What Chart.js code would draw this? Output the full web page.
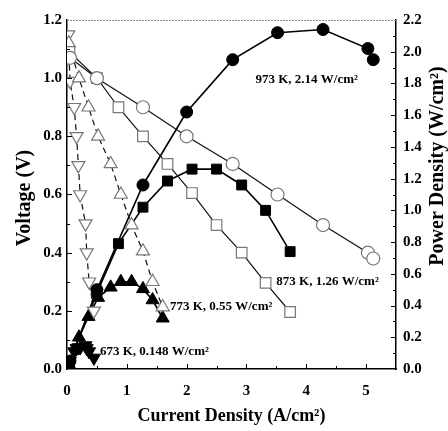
<!DOCTYPE html>
<html>
<head>
<meta charset="utf-8">
<script src="https://cdn.jsdelivr.net/npm/chart.js@4.4.1/dist/chart.umd.min.js"></script>
<style>
    body { margin: 0; background: #fff; overflow: hidden; }
    canvas { display: block; }
</style>
</head>
<body>
<canvas id="fuelCellChart" width="448" height="431"></canvas>
<script>
// current density (A/cm2), voltage (V) and power density (W/cm2) per temperature
const cur973 = [0.05, 0.5, 1.27, 2.0, 2.77, 3.52, 4.28, 5.03, 5.12];
const volt973 = [1.07, 1.0, 0.9, 0.8, 0.705, 0.6, 0.495, 0.4, 0.38];
const pow973 = [0.05, 0.5, 1.16, 1.62, 1.95, 2.12, 2.14, 2.02, 1.95];

const cur873 = [0.04, 0.5, 0.86, 1.27, 1.68, 2.09, 2.5, 2.92, 3.32, 3.73];
const volt873 = [1.09, 1.0, 0.9, 0.8, 0.705, 0.605, 0.495, 0.4, 0.296, 0.196];
const pow873 = [0.04, 0.48, 0.79, 1.02, 1.185, 1.26, 1.26, 1.16, 1.0, 0.74];

const cur773 = [0.03, 0.2, 0.36, 0.52, 0.73, 0.9, 1.08, 1.27, 1.43, 1.6];
const volt773 = [1.12, 1.0, 0.9, 0.8, 0.705, 0.6, 0.495, 0.405, 0.3, 0.213];
const pow773 = [0.03, 0.2, 0.33, 0.45, 0.515, 0.55, 0.55, 0.505, 0.435, 0.32];

const cur673 = [0.02, 0.05, 0.12, 0.16, 0.19, 0.22, 0.31, 0.33, 0.37, 0.45];
const volt673 = [1.15, 0.99, 0.9, 0.8, 0.7, 0.6, 0.5, 0.4, 0.3, 0.2];
const pow673 = [0.02, 0.05, 0.11, 0.13, 0.135, 0.135, 0.148, 0.13, 0.11, 0.07];

const xTicks = [0, 1, 2, 3, 4, 5];
const voltTicks = [0.0, 0.2, 0.4, 0.6, 0.8, 1.0, 1.2];
const powTicks = [0.0, 0.2, 0.4, 0.6, 0.8, 1.0, 1.2, 1.4, 1.6, 1.8, 2.0, 2.2];

const curveLabels = ['973 K, 2.14 W/cm²', '873 K, 1.26 W/cm²', '773 K, 0.55 W/cm²', '673 K, 0.148 W/cm²'];

const SERIF = '"Liberation Serif", "Times New Roman", serif';

function pts(xs, ys) {
    var out = [];
    for (var i = 0; i < xs.length; i++) {
        out.push({ x: xs[i], y: ys[i] });
    }
    return out;
}

function openSet(xs, ys, style, rot, dashed, r) {
    return {
        data: pts(xs, ys),
        yAxisID: 'y',
        showLine: true,
        borderColor: '#111',
        borderWidth: 1.2,
        borderDash: dashed ? [6, 4] : [],
        pointStyle: style,
        pointRotation: rot,
        pointRadius: r,
        pointBackgroundColor: '#fff',
        pointBorderColor: '#777',
        pointBorderWidth: 1.2
    };
}

function filledSet(xs, ys, style, rot, r) {
    return {
        data: pts(xs, ys),
        yAxisID: 'y1',
        showLine: true,
        borderColor: '#000',
        borderWidth: 1.6,
        pointStyle: style,
        pointRotation: rot,
        pointRadius: r,
        pointBackgroundColor: '#000',
        pointBorderColor: '#000',
        pointBorderWidth: 1
    };
}

// inward tick marks, box top and curve annotations
const decorations = {
    id: 'decorations',
    afterDatasetsDraw(chart) {
        const ctx = chart.ctx;
        const a = chart.chartArea;
        const sx = chart.scales.x, sy = chart.scales.y, sy1 = chart.scales.y1;
        ctx.save();
        ctx.strokeStyle = '#000';
        ctx.lineWidth = 1;
        ctx.beginPath();
        for (var v = 0.5; v < 5.5; v += 0.5) {
            var px = Math.round(sx.getPixelForValue(v)) + 0.5;
            var len = Number.isInteger(v) ? 5 : 3;
            ctx.moveTo(px, a.bottom);
            ctx.lineTo(px, a.bottom - len);
        }
        for (var k = 1; k < 12; k++) {
            var py = Math.round(sy.getPixelForValue(k * 0.1)) + 0.5;
            ctx.moveTo(a.left, py);
            ctx.lineTo(a.left + (k % 2 === 0 ? 5 : 3), py);
        }
        for (var m = 1; m < 22; m++) {
            var py1 = Math.round(sy1.getPixelForValue(m * 0.1)) + 0.5;
            ctx.moveTo(a.right, py1);
            ctx.lineTo(a.right - (m % 2 === 0 ? 5 : 3), py1);
        }
        ctx.stroke();

        // top edge of the box
        ctx.strokeStyle = '#888';
        ctx.setLineDash([2, 1]);
        ctx.beginPath();
        ctx.moveTo(a.left, a.top + 0.5);
        ctx.lineTo(a.right, a.top + 0.5);
        ctx.stroke();
        ctx.setLineDash([]);

        // curve labels
        ctx.fillStyle = '#000';
        ctx.font = 'bold 13px ' + SERIF;
        ctx.textBaseline = 'middle';
        ctx.textAlign = 'left';
        ctx.fillText(curveLabels[0], sx.getPixelForValue(3.15), sy.getPixelForValue(0.994));
        ctx.fillText(curveLabels[1], sx.getPixelForValue(3.5), sy.getPixelForValue(0.3));
        ctx.fillText(curveLabels[2], sx.getPixelForValue(1.72), sy.getPixelForValue(0.213));
        ctx.fillText(curveLabels[3], sx.getPixelForValue(0.55), sy.getPixelForValue(0.058));
        ctx.restore();
    }
};

// both vertical axis titles, reading bottom to top
function sideTitle(ctx, text, x, y) {
    ctx.save();
    ctx.translate(x, y);
    ctx.rotate(-Math.PI / 2);
    ctx.fillText(text, 0, 0);
    ctx.restore();
}

const axisTitles = {
    id: 'axisTitles',
    afterDraw(chart) {
        const ctx = chart.ctx;
        ctx.save();
        ctx.fillStyle = '#000';
        ctx.font = 'bold 20px ' + SERIF;
        ctx.textAlign = 'center';
        ctx.textBaseline = 'middle';
        sideTitle(ctx, 'Voltage (V)', 25, 198);
        sideTitle(ctx, 'Power Density (W/cm²)', 438, 166);
        ctx.restore();
    }
};

const tickFont = { family: SERIF, size: 15, weight: 'bold' };

new Chart(document.getElementById('fuelCellChart').getContext('2d'), {
    type: 'scatter',
    data: {
        datasets: [
            openSet(cur973, volt973, 'circle', 0, false, 6.5),
            openSet(cur873, volt873, 'rect', 0, false, 7.5),
            openSet(cur773, volt773, 'triangle', 0, true, 7.5),
            openSet(cur673, volt673, 'triangle', 180, true, 7.5),
            filledSet(cur973, pow973, 'circle', 0, 6),
            filledSet(cur873, pow873, 'rect', 0, 7),
            filledSet(cur773, pow773, 'triangle', 0, 7.5),
            filledSet(cur673, pow673, 'triangle', 180, 7.5)
        ]
    },
    options: {
        responsive: false,
        animation: false,
        devicePixelRatio: 1,
        layout: { padding: { top: 20, left: 0, right: 0, bottom: 0 } },
        plugins: {
            legend: { display: false },
            tooltip: { enabled: false }
        },
        scales: {
            x: {
                type: 'linear',
                min: 0,
                max: 5.5,
                afterBuildTicks: s => { s.ticks = xTicks.map(v => ({ value: v })); },
                afterFit: s => { s.height = 62; },
                grid: { display: false },
                border: { display: true, color: '#000', width: 1.5 },
                ticks: { color: '#000', font: tickFont, padding: 5, callback: v => String(v) },
                title: {
                    display: true,
                    text: 'Current Density (A/cm²)',
                    color: '#000',
                    font: { family: SERIF, size: 18, weight: 'bold' },
                    padding: { top: 4, bottom: 4 }
                }
            },
            y: {
                position: 'left',
                min: 0,
                max: 1.2,
                afterBuildTicks: s => { s.ticks = voltTicks.map(v => ({ value: v })); },
                afterFit: s => { s.width = 67; },
                grid: { display: false },
                border: { display: true, color: '#000', width: 1.5 },
                ticks: { color: '#000', font: tickFont, padding: -3, callback: v => v.toFixed(1) }
            },
            y1: {
                position: 'right',
                min: 0,
                max: 2.2,
                afterBuildTicks: s => { s.ticks = powTicks.map(v => ({ value: v })); },
                afterFit: s => { s.width = 52; },
                grid: { display: false },
                border: { display: true, color: '#000', width: 1.5 },
                ticks: { color: '#000', font: tickFont, padding: -1, callback: v => v.toFixed(1) }
            }
        }
    },
    plugins: [decorations, axisTitles]
});
</script>
</body>
</html>
